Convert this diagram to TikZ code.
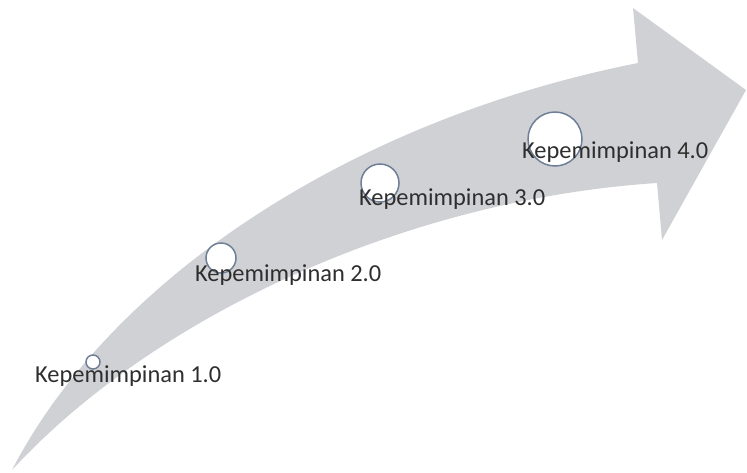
\documentclass[tikz,border=0pt]{standalone}
\usepackage{fontspec}
\setmainfont{Carlito}
\usepackage{xcolor}
\definecolor{arrowGray}{HTML}{D0D1D5}
\definecolor{ringBlue}{HTML}{6F7F97}
\definecolor{labelText}{HTML}{2E2E2E}
\usepackage{tikz}
\usetikzlibrary{positioning}
\tikzset{
    % Milestone ring on the arrow
    milestone/.style={
        circle,
        draw=ringBlue,
        line width=1.5pt,
        fill=white,
        inner sep=0pt,
    },
    % Text next to each ring
    stage label/.style={
        font=\fontsize{24.4}{28}\selectfont,
        text=labelText,
        inner sep=0pt,
        anchor=base west,
    },
}

\begin{document}
\begin{tikzpicture}[x=1pt, y=-1pt]
    \useasboundingbox (0,0) rectangle (747,472);

    % Curved arrow
    \fill[arrowGray] (12,470) .. controls (110,280) and (350,120) .. (638,63)
        -- (633,8) -- (746,90) -- (662,240) -- (657,183)
        .. controls (400,200) and (150,320) .. (12,470) -- cycle;

    \node (ring1) [milestone, minimum size=14pt] at (93,362) {};
    \node (ring2) [milestone, minimum size=30pt] at (221,258) {};
    \node (ring3) [milestone, minimum size=38pt] at (380,183) {};
    \node (ring4) [milestone, minimum size=54pt] at (555,139) {};

    \node (lead1) [stage label] at (35,382) {Kepemimpinan 1.0};
    \node (lead2) [stage label] at (195,281) {Kepemimpinan 2.0};
    \node (lead3) [stage label] at (359,205) {Kepemimpinan 3.0};
    \node (lead4) [stage label] at (522,158) {Kepemimpinan 4.0};
\end{tikzpicture}
\end{document}
